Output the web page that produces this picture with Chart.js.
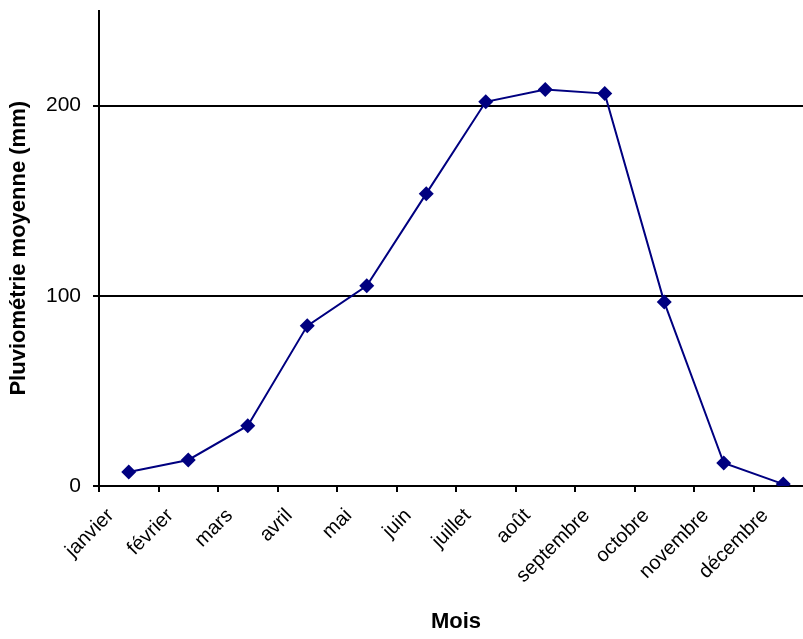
<!DOCTYPE html>
<html>
<head>
<meta charset="utf-8">
<script src="https://cdn.jsdelivr.net/npm/chart.js@4"></script>
<style>
  html, body { margin: 0; padding: 0; background: #fff; overflow: hidden; }
  #wrap { width: 820px; height: 651px; margin-top: -12px; }
</style>
</head>
<body>
<div id="wrap"><canvas id="line-chart" width="820" height="651"></canvas></div>
<script>
const mois = ['janvier', 'février', 'mars', 'avril', 'mai', 'juin', 'juillet', 'août', 'septembre', 'octobre', 'novembre', 'décembre'];
const pluie = [7.4, 13.7, 31.7, 84.2, 105.3, 153.7, 202, 208.4, 206.3, 96.7, 12.1, 1];
const yTicks = [0, 100, 200];

const font = 'Liberation Sans, Arial, sans-serif';

const ctx = document.getElementById('line-chart').getContext('2d');
new Chart(ctx, {
  type: 'line',
  data: {
    labels: mois,
    datasets: [{
      label: 'Pluviométrie',
      data: pluie,
      borderColor: '#000080',
      backgroundColor: '#000080',
      borderWidth: 2,
      pointStyle: 'rectRot',
      pointRadius: 7.5,
      pointBorderWidth: 0,
      tension: 0,
      fill: false,
    }],
  },
  options: {
    responsive: false,
    animation: false,
    layout: { autoPadding: false, padding: { top: 0, right: 7, left: 0, bottom: 0 } },
    plugins: { legend: { display: false }, tooltip: { enabled: false } },
    scales: {
      x: {
        offset: true,
        afterFit: (scale) => { scale.height = 153; },
        grid: { offset: true, drawOnChartArea: false, tickLength: 6, color: '#000', lineWidth: 2 },
        border: { color: '#000', width: 2 },
        ticks: { color: '#000', font: { family: font, size: 20 }, minRotation: 45, maxRotation: 45, autoSkip: false, padding: 12, labelOffset: -18 },
        title: { display: true, text: 'Mois', color: '#000', font: { family: font, size: 22, weight: 'bold' }, padding: { top: 0, bottom: 4 } },
      },
      y: {
        min: 0,
        max: 250,
        afterFit: (scale) => { scale.width = 99; },
        afterBuildTicks: (scale) => { scale.ticks = yTicks.map(v => ({ value: v })); },
        grid: { color: '#000', lineWidth: 2, tickLength: 6 },
        border: { color: '#000', width: 2 },
        ticks: { color: '#000', font: { family: font, size: 21, lineHeight: 1 }, padding: 12 },
        title: { display: true, text: 'Pluviométrie moyenne (mm)', color: '#000', font: { family: font, size: 22, weight: 'bold' }, padding: { top: 6, bottom: 0 } },
      },
    },
  },
});
</script>
</body>
</html>
